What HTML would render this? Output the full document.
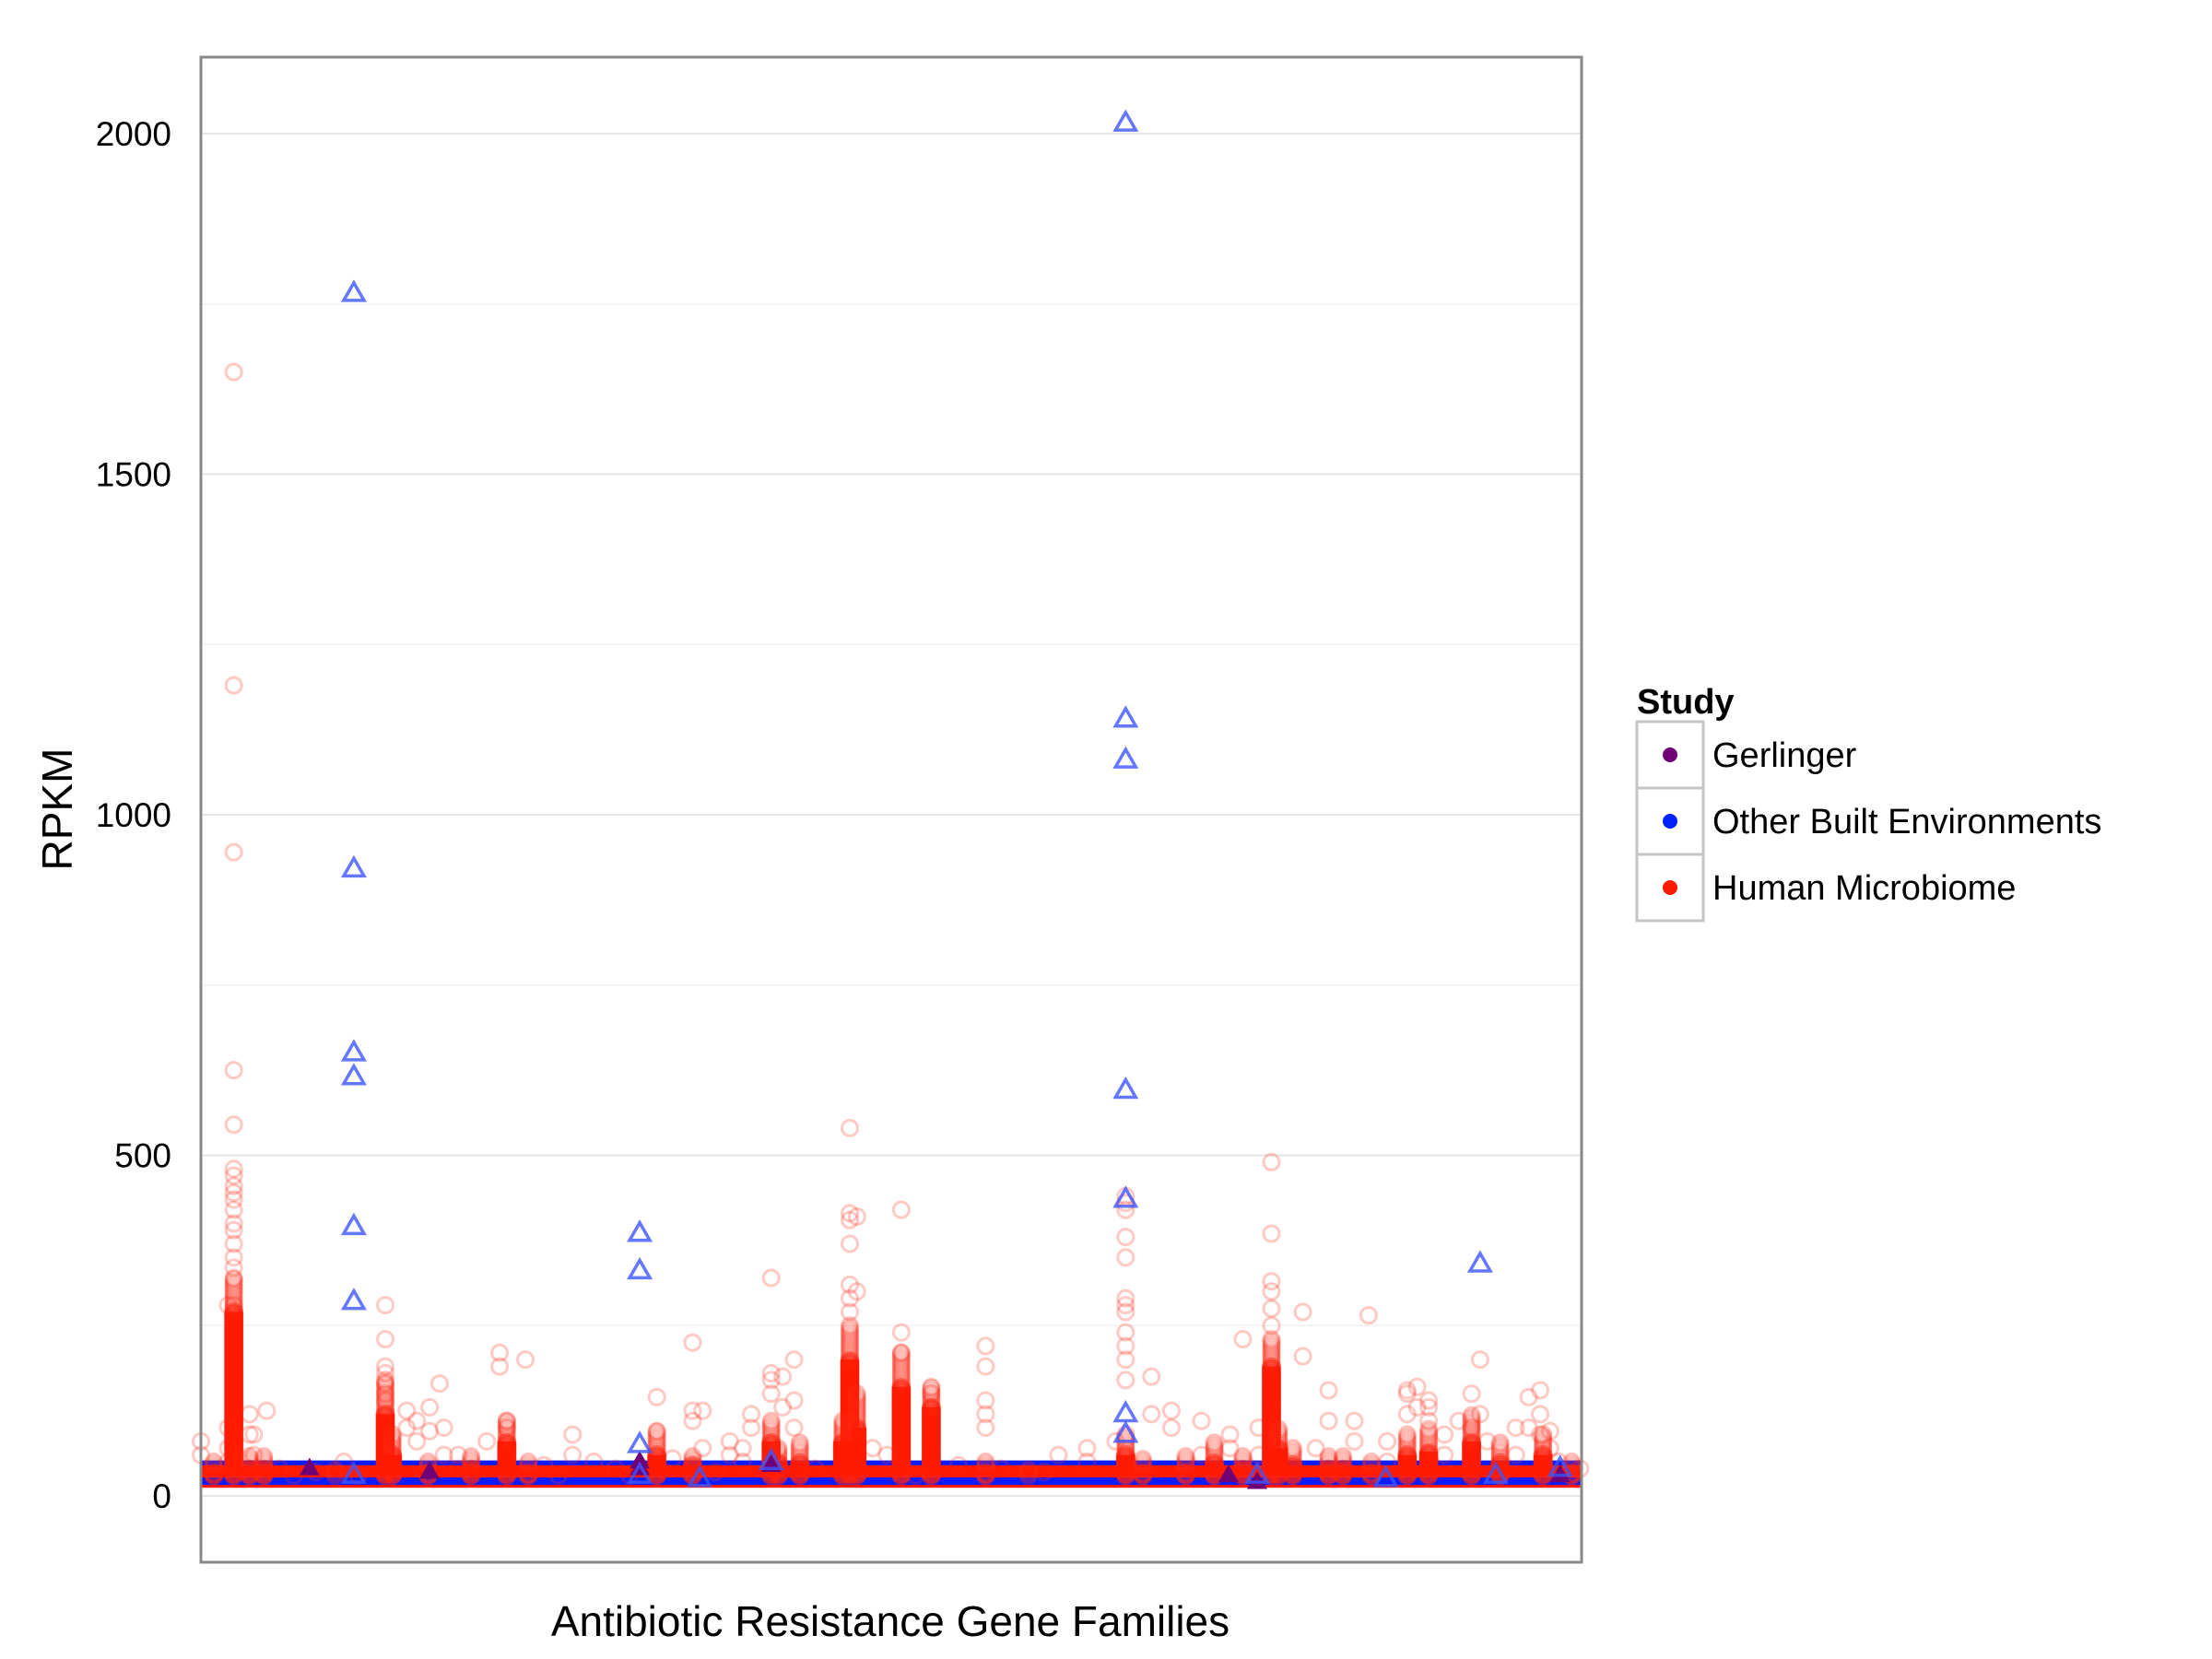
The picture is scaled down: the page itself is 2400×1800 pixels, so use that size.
<!DOCTYPE html>
<html><head><meta charset="utf-8"><style>html,body{margin:0;padding:0;background:#fff}svg{display:block}text{font-family:"Liberation Sans",Arial,sans-serif}</style></head>
<body>
<svg id="chart" width="2400" height="1800" viewBox="0 0 2400 1800" xmlns="http://www.w3.org/2000/svg">
<rect x="218" y="62" width="1498" height="1633" fill="#fff"/>
<g id="grid"></g>
<g id="marks"></g>
<rect x="218" y="62" width="1498" height="1633" fill="none" stroke="#888" stroke-width="3"/>
<g id="yticks"></g>
<text transform="translate(78,878) rotate(-90)" text-anchor="middle" font-size="46">RPKM</text>
<text x="966" y="1775" text-anchor="middle" font-size="46">Antibiotic Resistance Gene Families</text>
<g>
<text x="1776" y="774" font-size="38" font-weight="bold">Study</text>
<rect x="1776" y="783" width="72" height="72" fill="#fff" stroke="#c4c4c4" stroke-width="3"/>
<rect x="1776" y="855" width="72" height="72" fill="#fff" stroke="#c4c4c4" stroke-width="3"/>
<rect x="1776" y="927" width="72" height="72" fill="#fff" stroke="#c4c4c4" stroke-width="3"/>
<circle cx="1812" cy="819" r="8" fill="#6f0076"/>
<circle cx="1812" cy="891" r="8" fill="#0022ff"/>
<circle cx="1812" cy="963" r="8" fill="#ff1a00"/>
<text x="1858" y="832" font-size="38">Gerlinger</text>
<text x="1858" y="904" font-size="38">Other Built Environments</text>
<text x="1858" y="976" font-size="38">Human Microbiome</text>
</g>
</svg>
<script>
// gene family position (0..966) and RPKM values
const yTicks = [0, 500, 1000, 1500, 2000];
const yMinor = [250, 750, 1250, 1750];
const densePos   = [23, 129, 214, 399, 454, 490, 511, 647, 749, 159, 319, 344, 419, 459, 549, 689, 709, 764, 789, 844, 859, 889, 909, 939, 959, 799, 819, 729, 659, 579, 34, 9, 94, 189, 229, 134, 449, 404, 754, 44];
const denseTop   = [320, 170, 110, 110, 250, 210, 160, 90, 230, 50, 95, 60, 80, 150, 50, 60, 80, 70, 60, 90, 100, 120, 80, 90, 50, 60, 50, 60, 55, 40, 60, 50, 40, 60, 50, 90, 110, 70, 100, 60];
const denseSolid = [270, 120, 80, 80, 200, 160, 130, 60, 190, 35, 60, 45, 50, 100, 35, 35, 50, 45, 40, 60, 65, 80, 50, 60, 35, 40, 35, 40, 35, 25, 40, 35, 25, 40, 35, 60, 80, 50, 70, 40];
const redPos = [23, 19, 34, 46, 37, 129, 144, 151, 167, 160, 209, 227, 214, 319, 344, 351, 379, 399, 407, 415, 454, 459, 490, 511, 549, 647, 665, 679, 729, 749, 771, 789, 817, 807, 844, 851, 859, 895, 889, 929, 937, 944];
const redVals = [
 [1650,1190,945,625,545,480,470,455,445,435,420,400,390,370,350,335,320,280],
 [100,280,70,50],[120,90],[125],[90,60],
 [280,230,190,180,165,150,140],[125,100],[110,80],[165],[130,95],
 [210,190],[200],[110,100],
 [145,95],[225,125,110],[125,70],[70,50],
 [320,180,170,150],[175,130],[200,140,100],
 [540,415,405,370,310,290,270],[410,300],
 [420,240,210],[160,150,130],
 [220,190,140,120,100],
 [440,430,420,380,350,290,280,270,240,220,200,170],[175,120],[125,100],
 [230],[490,385,315,300,275,250],[270,205],[155,110],[265],[110,80],
 [155,150,120],[160,130],[140,130,110],[200,120],[150,100],[145,100],[155,120,90],[95,70]];
const lowPos = [0,55,65,80,100,110,170,180,200,240,250,260,275,290,300,330,360,370,385,430,470,480,500,530,560,590,600,620,640,700,720,740,780,830,870,880,900,920,950,965];
const lowVals = [[60,80],[40],[30],[35],[50],[30],[60,100],[40,60],[80],[45],[30],[60,90],[50],[40],[30],[55],[35],[60,80],[100,120],[40],[70],[60],[30],[45],[40],[35],[60],[50,70],[80],[110,60],[90,70],[60,100],[70],[50,80],[60,90],[110],[80],[60,100],[50],[40]];
const blueOpenPos = [107,107,107,107,107,107,107,307,307,307,307,647,647,647,647,647,647,647,895,399,829,951,349,906,739];
const blueOpenVal = [1765,920,650,615,395,285,30,385,330,75,30,2015,1140,1080,595,435,120,90,340,50,25,40,25,30,30];
const purplePos = [76,160,307,307,399,719,951,739];
const purpleVal = [40,35,50,40,45,30,30,20];

const NS = 'http://www.w3.org/2000/svg';
const X0 = 218, X1 = 1716, Y0 = 1623, PXU = 0.739;
function xs(p){ return X0 + p * (X1 - X0) / 966; }
function ys(v){ return Y0 - v * PXU; }
function mk(tag, attrs, parent){ const e = document.createElementNS(NS, tag); for (const k in attrs) e.setAttribute(k, attrs[k]); parent.appendChild(e); return e; }
const grid = document.getElementById('grid'), marks = document.getElementById('marks'), yt = document.getElementById('yticks');
yMinor.forEach(v => {
  const l = mk('line', {x1:X0, x2:X1, y1:ys(v), y2:ys(v), stroke:'#f4f4f4', 'stroke-width':2}, grid);
  
  
});
yTicks.forEach(v => {
  const l = mk('line', {x1:X0, x2:X1, y1:ys(v), y2:ys(v), stroke:'#e6e6e6', 'stroke-width':2}, grid);
  
  
  const t = mk('text', {x:186, y:ys(v)+13, 'text-anchor':'end', 'font-size':37}, yt);
  t.textContent = v;
  
  
});
const band = mk('g', {}, marks);


mk('rect', {x:X0, y:ys(52), width:X1-X0, height:(52-15)*PXU, fill:'#0a1cff'}, band);
mk('rect', {x:X0, y:ys(45), width:X1-X0, height:(45-27)*PXU, fill:'#ff1a00'}, band);
mk('rect', {x:X0, y:ys(16), width:X1-X0, height:3, fill:'#ff1a00'}, band);
const circ = 'rgba(255,40,20,0.25)';
function circle(p, v, parent, name){
  const c = mk('circle', {cx:xs(p), cy:ys(v), r:8.5, fill:'none', stroke:circ, 'stroke-width':3}, parent);
  
  
}
densePos.forEach((p, i) => {
  const g = mk('g', {}, marks);
  
  
  for (let v = 30; v <= denseTop[i]; v += 4) mk('circle', {cx:xs(p), cy:ys(v), r:8.5, fill:'none', stroke:'rgba(255,40,20,0.3)', 'stroke-width':3}, g);
  for (let v = 30; v <= denseSolid[i]; v += 3) mk('circle', {cx:xs(p), cy:ys(v), r:8.5, fill:'none', stroke:'rgba(255,30,10,0.45)', 'stroke-width':4}, g);
  mk('rect', {x:xs(p)-10, y:ys(denseSolid[i]), width:20, height:Math.max(0,(denseSolid[i]-30)*PXU), fill:'#ff1a00', opacity:0.9}, g);
});
redPos.forEach((p, i) => { redVals[i].forEach(v => circle(p, v, marks, 'human-microbiome-point')); });
lowPos.forEach((p, i) => { lowVals[i].forEach(v => circle(p, v, marks, 'human-microbiome-low-point')); });
function tri(cx, cy, s){ const h = s*0.866; return (cx)+','+(cy-h*0.62)+' '+(cx-s/2)+','+(cy+h*0.38)+' '+(cx+s/2)+','+(cy+h*0.38); }
purplePos.forEach((p, i) => {
  const t = mk('polygon', {points:tri(xs(p), ys(purpleVal[i]), 22), fill:'#6f0076'}, marks);
  
  
});
blueOpenPos.forEach((p, i) => {
  const t = mk('polygon', {points:tri(xs(p), ys(blueOpenVal[i]), 22), fill:'none', stroke:'rgba(60,85,255,0.8)', 'stroke-width':3.5}, marks);
  
  
});
</script>
</body></html>
